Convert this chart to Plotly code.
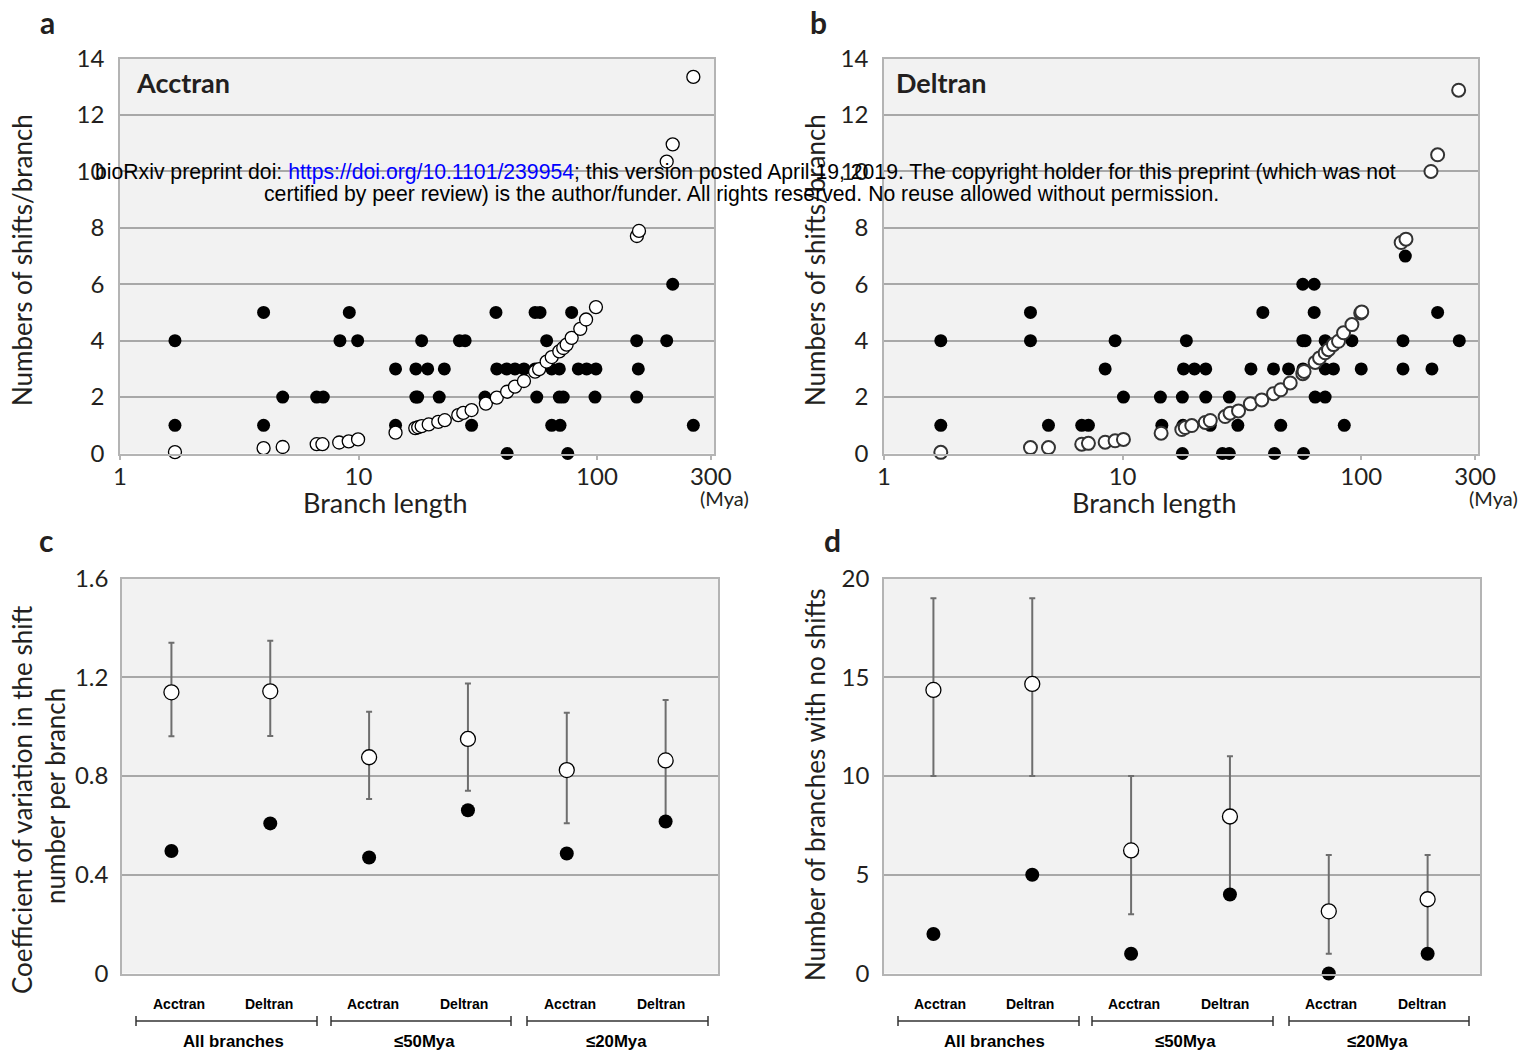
import plotly.graph_objects as go

W, H = 1536, 1057

# ---------------- data ----------------
# Panel a (Acctran): observed (filled) and expected (open)
acc_obs_x = [1.70, 8.36, 9.92, 18.4, 26.5, 28.0, 61.5, 146.7, 196,
             4.0, 9.15, 37.7, 55.0, 57.7, 78.3,
             207.7,
             14.3, 17.4, 19.5, 22.9, 38.0, 41.8, 45.3, 49.4, 55.0, 64.6, 69.5, 83.5, 90.5, 99.0, 149,
             4.81, 6.68, 7.12, 17.4, 17.7, 21.8, 33.9, 55.9, 69.5, 72.2, 98.1, 146.7,
             1.70, 4.0, 14.3, 29.8, 64.6, 70.0, 253.5,
             42.0, 75.4]
acc_obs_y = [4, 4, 4, 4, 4, 4, 4, 4, 4,
             5, 5, 5, 5, 5, 5,
             6,
             3, 3, 3, 3, 3, 3, 3, 3, 3, 3, 3, 3, 3, 3, 3,
             2, 2, 2, 2, 2, 2, 2, 2, 2, 2, 2, 2,
             1, 1, 1, 1, 1, 1, 1,
             0, 0]
acc_exp_x = [1.70, 4.0, 4.81, 6.68, 7.06, 8.3, 9.1, 9.96, 14.3, 17.3, 17.8, 18.4, 19.7,
             21.6, 23.0, 26.2, 27.5, 29.8, 34.2, 38.0, 42.0, 45.3, 49.4, 55.0, 57.2,
             61.5, 64.6, 69.5, 72.2, 74.6, 78.3, 85.1, 90.0, 99.0, 147, 150, 196, 207.7, 253.5]
acc_exp_y = [0.05, 0.19, 0.23, 0.33, 0.33, 0.39, 0.43, 0.50, 0.74, 0.90, 0.93, 0.97, 1.03,
             1.12, 1.18, 1.36, 1.44, 1.54, 1.77, 1.98, 2.19, 2.37, 2.57, 2.90, 2.99,
             3.26, 3.42, 3.62, 3.74, 3.86, 4.10, 4.42, 4.75, 5.19, 7.71, 7.89, 10.35, 10.96, 13.35]

# Panel b (Deltran)
del_obs_x = [153,
             56.9, 63.5,
             4.11, 38.7, 63.5, 209,
             1.73, 4.11, 9.30, 18.5, 56.9, 58.2, 70.6, 91.4, 149.6, 257.6,
             8.45, 18.0, 20.0, 22.3, 34.5, 42.9, 49.6, 57.0, 70.6, 76.5, 100, 149.6, 197.8,
             10.08, 14.4, 17.8, 22.3, 28.0, 64.1, 70.6,
             1.73, 4.89, 6.74, 7.19, 14.6, 17.9, 23.3, 30.4, 46.0, 84.9,
             17.8, 26.2, 28.0, 43.3, 57.3]
del_obs_y = [7,
             6, 6,
             5, 5, 5, 5,
             4, 4, 4, 4, 4, 4, 4, 4, 4, 4,
             3, 3, 3, 3, 3, 3, 3, 3, 3, 3, 3, 3, 3,
             2, 2, 2, 2, 2, 2, 2,
             1, 1, 1, 1, 1, 1, 1, 1, 1, 1,
             0, 0, 0, 0, 0]
del_exp_x = [1.73, 4.11, 4.89, 6.74, 7.19, 8.45, 9.30, 10.08, 14.5, 17.7, 18.3, 19.5,
             22.2, 23.3, 26.9, 28.2, 30.6, 34.3, 38.3, 42.9, 46.0, 50.4, 56.9, 57.6,
             64.1, 66.9, 70.6, 72.9, 76.5, 80.3, 84.3, 91.4, 99.5, 100.5,
             147, 154, 196, 209, 256]
del_exp_y = [0.04, 0.21, 0.21, 0.33, 0.36, 0.40, 0.45, 0.50, 0.72, 0.85, 0.92, 0.99,
             1.10, 1.17, 1.31, 1.43, 1.51, 1.76, 1.90, 2.12, 2.26, 2.50, 2.83, 2.91,
             3.23, 3.39, 3.57, 3.68, 3.86, 3.98, 4.28, 4.57, 4.98, 5.02,
             7.48, 7.60, 10.0, 10.59, 12.88]

# Panels c and d
cat_pos = [0.5, 1.5, 2.5, 3.5, 4.5, 5.5]
cat_labels = ["Acctran", "Deltran", "Acctran", "Deltran", "Acctran", "Deltran"]
group_labels = ["All branches", "≤50Mya", "≤20Mya"]

cv_obs = [0.496, 0.608, 0.470, 0.661, 0.486, 0.616]
cv_sim = [1.139, 1.143, 0.876, 0.950, 0.824, 0.863]
cv_hi = [1.340, 1.348, 1.060, 1.175, 1.056, 1.108]
cv_lo = [0.961, 0.962, 0.707, 0.740, 0.609, 0.620]

nz_obs = [2, 5, 1, 4, 0, 1]
nz_sim = [14.36, 14.66, 6.23, 7.95, 3.15, 3.76]
nz_hi = [19, 19, 10, 11, 6, 6]
nz_lo = [10, 10, 3, 4, 1, 1]

# ---------------- helpers ----------------
def fx(x):
    return x / W


def fy(y):
    return 1 - y / H


MYR = "Lato, 'Open Sans', 'Noto Sans', sans-serif"
ARIAL = "'Liberation Sans', Arial, sans-serif"
TXT = "#231f20"
GRID = "#a8a8a8"
BORDER = "#b4b4b4"
BG = "#f2f2f2"

fig = go.Figure()

# panel a
fig.add_trace(go.Scatter(x=acc_obs_x, y=acc_obs_y, mode="markers", xaxis="x", yaxis="y",
                         marker=dict(size=13, color="black", line=dict(width=0)),
                         cliponaxis=False, showlegend=False))
fig.add_trace(go.Scatter(x=acc_exp_x, y=acc_exp_y, mode="markers", xaxis="x", yaxis="y",
                         marker=dict(size=13, color="white", line=dict(width=1.3, color="black")),
                         cliponaxis=False, showlegend=False))
# panel b
fig.add_trace(go.Scatter(x=del_obs_x, y=del_obs_y, mode="markers", xaxis="x2", yaxis="y2",
                         marker=dict(size=13, color="black", line=dict(width=0)),
                         cliponaxis=False, showlegend=False))
fig.add_trace(go.Scatter(x=del_exp_x, y=del_exp_y, mode="markers", xaxis="x2", yaxis="y2",
                         marker=dict(size=13, color="white", line=dict(width=2, color="#333333")),
                         cliponaxis=False, showlegend=False))


def err(sim, hi, lo):
    return dict(type="data", symmetric=False,
                array=[h - s for h, s in zip(hi, sim)],
                arrayminus=[s - l for s, l in zip(sim, lo)],
                color="#6e6e6e", thickness=2, width=3)


# panel c
fig.add_trace(go.Scatter(x=cat_pos, y=cv_sim, mode="markers", xaxis="x3", yaxis="y3",
                         error_y=err(cv_sim, cv_hi, cv_lo),
                         marker=dict(size=15, color="white", line=dict(width=1.3, color="black")),
                         cliponaxis=False, showlegend=False))
fig.add_trace(go.Scatter(x=cat_pos, y=cv_obs, mode="markers", xaxis="x3", yaxis="y3",
                         marker=dict(size=14, color="black"),
                         cliponaxis=False, showlegend=False))
# panel d
fig.add_trace(go.Scatter(x=cat_pos, y=nz_sim, mode="markers", xaxis="x4", yaxis="y4",
                         error_y=err(nz_sim, nz_hi, nz_lo),
                         marker=dict(size=15, color="white", line=dict(width=1.3, color="black")),
                         cliponaxis=False, showlegend=False))
fig.add_trace(go.Scatter(x=cat_pos, y=nz_obs, mode="markers", xaxis="x4", yaxis="y4",
                         marker=dict(size=14, color="black"),
                         cliponaxis=False, showlegend=False))


def logx(l, r, anchor):
    return dict(domain=[fx(l), fx(r)], anchor=anchor, type="log", range=[0, 2.4906],
                tickvals=[1, 10, 100, 300], ticktext=["1", "10", "100", "300"],
                ticks="outside", ticklen=5, tickcolor=BORDER, tickwidth=1.5,
                ticklabelstandoff=-4,
                showgrid=False, zeroline=False, showline=True, mirror=True,
                linecolor=BORDER, linewidth=1.5, automargin=False,
                tickfont=dict(family=MYR, size=24, color=TXT))


def caty(t, b, anchor, rng, dtick, standoff):
    return dict(domain=[fy(b), fy(t)], anchor=anchor, range=rng, dtick=dtick, tick0=0,
                showgrid=True, gridcolor=GRID, gridwidth=1.5, zeroline=False,
                showline=True, mirror=True, linecolor=BORDER, linewidth=1.5,
                ticks="", ticklabelstandoff=standoff, automargin=False,
                tickfont=dict(family=MYR, size=24, color=TXT))


def catx(l, r, anchor):
    return dict(domain=[fx(l), fx(r)], anchor=anchor, range=[0, 6.03],
                showticklabels=False, ticks="", showgrid=False, zeroline=False,
                showline=True, mirror=True, linecolor=BORDER, linewidth=1.5,
                automargin=False)


fig.update_layout(
    width=W, height=H, autosize=False,
    margin=dict(l=0, r=0, t=0, b=0, pad=0, autoexpand=False),
    paper_bgcolor="white", plot_bgcolor=BG,
    xaxis=logx(120, 714, "y"),
    yaxis=caty(58.6, 453.5, "x", [0, 14], 2, 9),
    xaxis2=logx(884, 1478.3, "y2"),
    yaxis2=caty(58.6, 453.5, "x2", [0, 14], 2, 9),
    xaxis3=catx(122, 718, "y3"),
    yaxis3=dict(caty(578.5, 973.5, "x3", [0, 1.6], 0.4, 7),
                tickvals=[0, 0.4, 0.8, 1.2, 1.6], ticktext=["0", "0.4", "0.8", "1.2", "1.6"]),
    xaxis4=catx(884, 1480, "y4"),
    yaxis4=caty(578.5, 973.5, "x4", [0, 20], 5, 8),
)

ann = []


def text(x, y, s, size, family=MYR, color=TXT, angle=0, xanchor="center", bold=False):
    if bold:
        s = "<b>" + s + "</b>"
    ann.append(dict(x=fx(x), y=fy(y), xref="paper", yref="paper", text=s, showarrow=False,
                    xanchor=xanchor, yanchor="middle", textangle=angle,
                    font=dict(family=family, size=size, color=color)))


# panel letters
text(47, 22, "a", 30, bold=True)
text(818, 22, "b", 30, bold=True)
text(46, 540, "c", 30, bold=True)
text(832, 540, "d", 30, bold=True)

# panel titles
text(134, 82, "Acctran", 27, xanchor="left", bold=True)
text(894, 82, "Deltran", 27, xanchor="left", bold=True)

# axis titles
text(22, 260, "Numbers of shifts/branch", 26, angle=-90)
text(815, 260, "Numbers of shifts/branch", 26, angle=-90)
text(385, 502, "Branch length", 27)
text(1154, 502, "Branch length", 27)
text(724, 498, "(Mya)", 20)
text(1493, 498, "(Mya)", 20)
text(22, 800, "Coefficient of variation in the shift", 26, angle=-90)
text(55, 796, "number per branch", 26, angle=-90)
text(815, 785, "Number of branches with no shifts", 26, angle=-90)

# category / group labels
cat_x_c = [179, 269, 373, 464, 570, 661]
cat_x_d = [940, 1030, 1134, 1225, 1331, 1422]
grp_x_c = [233, 424, 616]
grp_x_d = [994, 1185, 1377]
for xs, lab in ((cat_x_c, cat_labels), (cat_x_d, cat_labels)):
    for xx, s in zip(xs, lab):
        text(xx, 1004, s, 14, family=ARIAL, color="black", bold=True)
for xs in (grp_x_c, grp_x_d):
    for xx, s in zip(xs, group_labels):
        text(xx, 1041, s, 16.8, family=ARIAL, color="black", bold=True)

# watermark
text(745, 172, "bioRxiv preprint doi: <span style='color:#0000ff'>https://doi.org/10.1101/239954</span>; "
     "this version posted April 19, 2019. The copyright holder for this preprint (which was not",
     21.2, family=ARIAL, color="black")
text(741, 194, "certified by peer review) is the author/funder. All rights reserved. "
     "No reuse allowed without permission.", 21.2, family=ARIAL, color="black")

fig.update_layout(annotations=ann)

# brackets
shapes = []
brackets = [(136, 317), (331, 511), (527, 708), (898, 1079), (1092, 1273), (1289, 1469)]
for a, b in brackets:
    shapes.append(dict(type="line", xref="paper", yref="paper", x0=fx(a), x1=fx(b),
                       y0=fy(1021), y1=fy(1021), line=dict(color="#333333", width=1.5)))
    for e in (a, b):
        shapes.append(dict(type="line", xref="paper", yref="paper", x0=fx(e), x1=fx(e),
                           y0=fy(1016), y1=fy(1026), line=dict(color="#333333", width=1.5)))
fig.update_layout(shapes=shapes)

fig.write_html("out.html")
